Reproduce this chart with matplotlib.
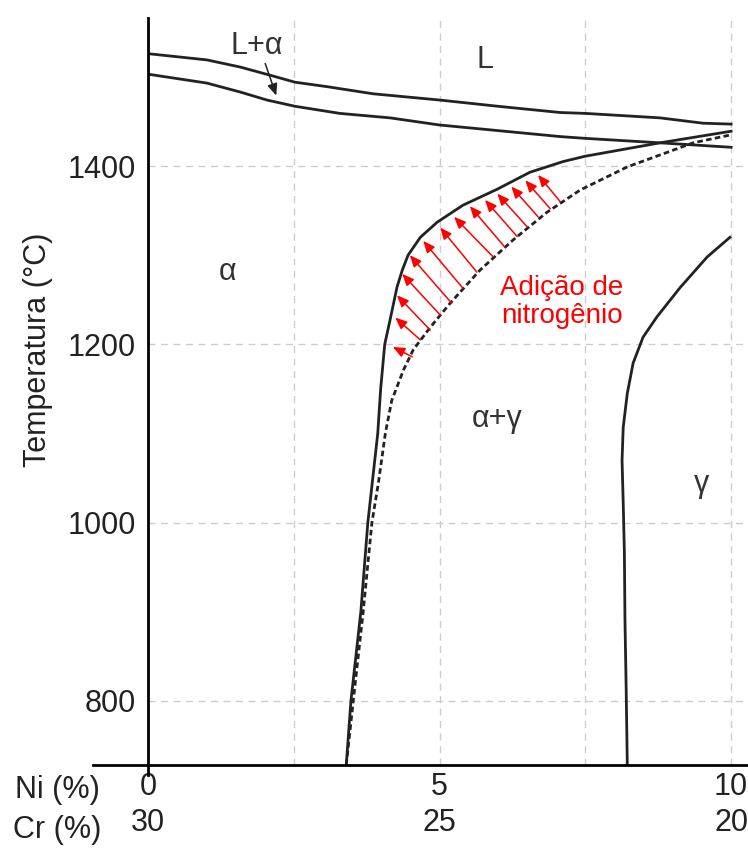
import numpy as np
import matplotlib.pyplot as plt

plt.rcParams['font.family'] = ['Liberation Sans', 'DejaVu Sans']

# Fronteiras do diagrama (Ni em %, temperatura em °C)
liquidus_ni = [0, 1.01, 1.58, 2.14, 2.52, 3.07, 3.86, 5.0, 6.0, 7.07, 7.5, 8.78, 9.52, 10]
liquidus_t = [1526, 1519, 1511, 1501, 1494, 1489, 1481, 1474, 1467, 1460, 1459, 1454, 1448, 1447]

solidus_ni = [0, 1.01, 1.58, 2.04, 2.52, 3.29, 4.15, 5.0, 7.07, 7.5, 8.78, 10]
solidus_t = [1503, 1493, 1483, 1474, 1467, 1459, 1454, 1446, 1433, 1431, 1426, 1421]

alfa_ni = [3.40, 3.48, 3.65, 3.77, 3.94, 3.99, 4.06, 4.15, 4.27, 4.36, 4.46, 4.67, 4.96,
           5.40, 5.99, 6.55, 7.12, 7.5, 8.78, 10]
alfa_t = [728, 800, 900, 1000, 1100, 1150, 1200, 1227, 1264, 1283, 1300, 1320, 1337,
          1356, 1374, 1393, 1405, 1411, 1426, 1439]

# mesma fronteira com adição de nitrogênio
alfa_n_ni = [3.40, 3.52, 3.69, 3.84, 3.95, 4.07, 4.18, 4.38, 4.55, 4.84, 5.18, 5.69, 6.26,
             6.84, 7.41, 8.22, 9.35, 10]
alfa_n_t = [728, 800, 900, 1000, 1044, 1100, 1137, 1171, 1194, 1219, 1246, 1283, 1317,
            1348, 1373, 1399, 1426, 1435]

gama_ni = [8.22, 8.20, 8.18, 8.17, 8.15, 8.13, 8.15, 8.22, 8.32, 8.49, 8.73, 9.13, 9.59, 9.98]
gama_t = [728, 816, 891, 966, 1022, 1070, 1107, 1145, 1179, 1208, 1231, 1264, 1298, 1320]

# setas vermelhas: origem na linha tracejada, ponta na linha cheia
seta_ni0 = [4.53, 4.67, 4.84, 5.01, 5.21, 5.40, 5.64, 5.92, 6.12, 6.33, 6.50, 6.69, 6.90, 7.07]
seta_t0 = [1186, 1205, 1216, 1233, 1246, 1263, 1281, 1298, 1309, 1321, 1332, 1343, 1352, 1360]
seta_ni1 = [4.20, 4.24, 4.27, 4.36, 4.49, 4.72, 5.01, 5.25, 5.52, 5.78, 5.99, 6.23, 6.47, 6.69]
seta_t1 = [1197, 1230, 1255, 1279, 1300, 1316, 1331, 1343, 1355, 1362, 1369, 1377, 1384, 1390]

ni_ticks = [0, 5, 10]
cr_ticks = [30, 25, 20]
t_ticks = [800, 1000, 1200, 1400]
grid_ni = [2.5, 5, 7.5, 10]

fig = plt.figure(figsize=(7.48, 8.48), dpi=100)
ax = fig.add_axes([148 / 748, 1 - 765 / 848, 600 / 748, 747 / 848])
ax.set_xlim(0, 10.29)
ax.set_ylim(728.2, 1566)

# grade tracejada
for x in grid_ni:
    ax.axvline(x, color='#cccccc', lw=1, ls=(0, (5, 4)), zorder=0)
for t in t_ticks:
    ax.axhline(t, color='#cccccc', lw=1, ls=(0, (5, 4)), zorder=0)

cor = '#222222'
ax.plot(liquidus_ni, liquidus_t, color=cor, lw=2)
ax.plot(solidus_ni, solidus_t, color=cor, lw=2)
ax.plot(alfa_ni, alfa_t, color=cor, lw=2)
ax.plot(alfa_n_ni, alfa_n_t, color=cor, lw=2, ls=(0, (2, 1.2)))
ax.plot(gama_ni, gama_t, color=cor, lw=2)

for x0, t0, x1, t1 in zip(seta_ni0, seta_t0, seta_ni1, seta_t1):
    ax.annotate('', xy=(x1, t1), xytext=(x0, t0),
                arrowprops=dict(arrowstyle='-|>,head_length=0.7,head_width=0.3',
                                color='red', lw=1.1, shrinkA=0, shrinkB=0))

# seta do campo L+α
ax.annotate('', xy=(2.20, 1479), xytext=(2.01, 1515),
            arrowprops=dict(arrowstyle='-|>,head_length=0.7,head_width=0.3',
                            color=cor, lw=1.1, shrinkA=0, shrinkB=0))

txt = '#333333'
ax.text(1.87, 1535, 'L+α', fontsize=22, color=txt, ha='center', va='center')
ax.text(5.78, 1519, 'L', fontsize=22, color=txt, ha='center', va='center')
ax.text(1.36, 1281, 'α', fontsize=22, color=txt, ha='center', va='center')
ax.text(5.99, 1116, 'α+γ', fontsize=22, color=txt, ha='center', va='center')
ax.text(9.49, 1043, 'γ', fontsize=22, color=txt, ha='center', va='center')
ax.text(7.10, 1247, 'Adição de\nnitrogênio', fontsize=20, color='red',
        ha='center', va='center', linespacing=1.1)

# eixos desenhados à mão, cruzando na origem
for s in ax.spines.values():
    s.set_visible(False)
ax.plot([-0.0917, 1], [0, 0], transform=ax.transAxes, color='black', lw=2, clip_on=False)
ax.plot([0, 0], [-0.0134, 1], transform=ax.transAxes, color='black', lw=2, clip_on=False)

ax.set_xticks(ni_ticks)
ax.set_xticklabels([f'{n}\n{c}' for n, c in zip(ni_ticks, cr_ticks)], linespacing=1.25)
ax.set_yticks(t_ticks)
ax.tick_params(length=0, labelsize=22, colors='#222222')
ax.tick_params(axis='x', pad=5)
ax.tick_params(axis='y', pad=9)

fig.text(57 / 748, 1 - 790 / 848, 'Ni (%)', fontsize=22, color='#222222', ha='center', va='center')
fig.text(57 / 748, 1 - 830 / 848, 'Cr (%)', fontsize=22, color='#222222', ha='center', va='center')
fig.text(38 / 748, 1 - 350 / 848, 'Temperatura (°C)', fontsize=22, color='#222222',
         rotation=90, ha='center', va='center')

fig.savefig('out.png', dpi=100, facecolor='white')
